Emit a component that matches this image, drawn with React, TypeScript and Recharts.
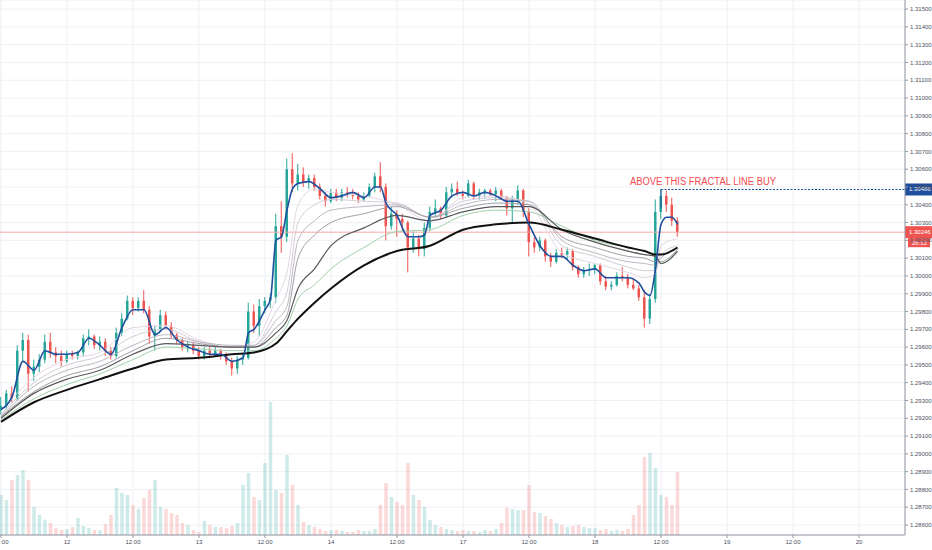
import React from "react";
import {
  ComposedChart,
  Bar,
  Line,
  XAxis,
  YAxis,
  CartesianGrid,
  ReferenceLine,
  ReferenceDot,
} from "recharts";

// hourly candles, [open, high, low, close]
const candles: [number, number, number, number][] = [
  [1.2924, 1.2932, 1.2922, 1.2927], [1.2927, 1.2936, 1.2925, 1.2934], [1.2934, 1.2938, 1.2929, 1.2931],
  [1.2931, 1.2961, 1.293, 1.2958], [1.2958, 1.2968, 1.2952, 1.2964], [1.2964, 1.2967, 1.2935, 1.2945],
  [1.2945, 1.2953, 1.2941, 1.2949], [1.2949, 1.2956, 1.2946, 1.2953], [1.2953, 1.2967, 1.2951, 1.2963],
  [1.2963, 1.2968, 1.2954, 1.2957], [1.2957, 1.296, 1.2951, 1.2955], [1.2955, 1.2958, 1.2949, 1.2952],
  [1.2952, 1.2958, 1.2951, 1.2956], [1.2956, 1.2958, 1.2953, 1.2955], [1.2955, 1.2958, 1.2953, 1.2957],
  [1.2957, 1.2967, 1.2955, 1.2965], [1.2965, 1.297, 1.2961, 1.2966], [1.2966, 1.2967, 1.2959, 1.2961],
  [1.2961, 1.2966, 1.2958, 1.2963], [1.2963, 1.2965, 1.2955, 1.2958], [1.2958, 1.296, 1.2953, 1.2955],
  [1.2955, 1.2971, 1.2954, 1.2968], [1.2968, 1.2979, 1.2966, 1.2976], [1.2976, 1.2989, 1.2975, 1.2986],
  [1.2986, 1.2988, 1.2978, 1.2982], [1.2982, 1.2988, 1.298, 1.2986], [1.2986, 1.2992, 1.2979, 1.2981],
  [1.2981, 1.2983, 1.2962, 1.2966], [1.2966, 1.2972, 1.2958, 1.297], [1.297, 1.2981, 1.2969, 1.2978],
  [1.2978, 1.298, 1.297, 1.2972], [1.2972, 1.2974, 1.2965, 1.2967], [1.2967, 1.2968, 1.2962, 1.2964],
  [1.2964, 1.2965, 1.2958, 1.296], [1.296, 1.2963, 1.2957, 1.2961], [1.2961, 1.2963, 1.2956, 1.2958],
  [1.2958, 1.296, 1.2953, 1.2955], [1.2955, 1.296, 1.2953, 1.2958], [1.2958, 1.296, 1.2954, 1.2956],
  [1.2956, 1.296, 1.2955, 1.2958], [1.2958, 1.2959, 1.2953, 1.2955], [1.2955, 1.2957, 1.295, 1.2952],
  [1.2952, 1.2954, 1.2944, 1.2948], [1.2948, 1.2955, 1.2945, 1.2953], [1.2953, 1.2956, 1.295, 1.2954],
  [1.2954, 1.2985, 1.2953, 1.298], [1.298, 1.2984, 1.2968, 1.2972], [1.2972, 1.2987, 1.2966, 1.2983],
  [1.2983, 1.2988, 1.2979, 1.2986], [1.2986, 1.299, 1.2982, 1.2988], [1.2988, 1.3035, 1.2985, 1.3028],
  [1.3028, 1.3042, 1.3013, 1.3022], [1.3022, 1.3066, 1.3019, 1.306], [1.306, 1.3069, 1.3047, 1.3052],
  [1.3052, 1.3063, 1.3048, 1.3057], [1.3057, 1.3061, 1.305, 1.3053], [1.3053, 1.3057, 1.3049, 1.3055],
  [1.3055, 1.3057, 1.3048, 1.305], [1.305, 1.3052, 1.3043, 1.3045], [1.3045, 1.3047, 1.3039, 1.3042],
  [1.3042, 1.3049, 1.3041, 1.3047], [1.3047, 1.3049, 1.3042, 1.3044], [1.3044, 1.3049, 1.3042, 1.3047],
  [1.3047, 1.305, 1.3044, 1.3046], [1.3046, 1.3049, 1.3043, 1.3045], [1.3045, 1.3047, 1.3041, 1.3043],
  [1.3043, 1.3047, 1.3042, 1.3045], [1.3045, 1.3052, 1.3044, 1.305], [1.305, 1.3058, 1.3047, 1.3056],
  [1.3056, 1.3064, 1.3047, 1.305], [1.305, 1.3052, 1.302, 1.3028], [1.3028, 1.3039, 1.3026, 1.3035],
  [1.3035, 1.3037, 1.3022, 1.3032], [1.3032, 1.3035, 1.3025, 1.303], [1.303, 1.3031, 1.3002, 1.3016],
  [1.3016, 1.3025, 1.3013, 1.3021], [1.3021, 1.3023, 1.3011, 1.3015], [1.3015, 1.303, 1.3011, 1.3027],
  [1.3027, 1.3039, 1.3025, 1.3036], [1.3036, 1.3043, 1.3033, 1.3038], [1.3038, 1.3039, 1.3032, 1.3034],
  [1.3034, 1.305, 1.3033, 1.3047], [1.3047, 1.3052, 1.3044, 1.3049], [1.3049, 1.3053, 1.3045, 1.3046],
  [1.3046, 1.3048, 1.3043, 1.3045], [1.3045, 1.3054, 1.3044, 1.3052], [1.3052, 1.3053, 1.3043, 1.3045],
  [1.3045, 1.3049, 1.3043, 1.3047], [1.3047, 1.3049, 1.3044, 1.3048], [1.3048, 1.3049, 1.3045, 1.3046],
  [1.3046, 1.305, 1.3042, 1.3048], [1.3048, 1.3049, 1.3043, 1.3044], [1.3044, 1.3045, 1.3034, 1.3038],
  [1.3038, 1.3045, 1.303, 1.3043], [1.3043, 1.3051, 1.304, 1.3048], [1.3048, 1.3049, 1.3033, 1.3036],
  [1.3036, 1.3038, 1.3011, 1.3019], [1.3019, 1.3022, 1.3013, 1.3016], [1.3016, 1.3022, 1.3014, 1.302],
  [1.302, 1.3021, 1.3008, 1.3011], [1.3011, 1.3013, 1.3005, 1.3008], [1.3008, 1.3015, 1.3007, 1.3013],
  [1.3013, 1.3016, 1.301, 1.3012], [1.3012, 1.3016, 1.3009, 1.3014], [1.3014, 1.3015, 1.3003, 1.3005],
  [1.3005, 1.3006, 1.2999, 1.3001], [1.3001, 1.3005, 1.2999, 1.3003], [1.3003, 1.3007, 1.3, 1.3004],
  [1.3004, 1.3007, 1.3001, 1.3006], [1.3006, 1.3007, 1.2995, 1.2997], [1.2997, 1.3, 1.2992, 1.2994],
  [1.2994, 1.2997, 1.2992, 1.2995], [1.2995, 1.3002, 1.2994, 1.3], [1.3, 1.3005, 1.2997, 1.2999],
  [1.2999, 1.3001, 1.2993, 1.2995], [1.2995, 1.2999, 1.2992, 1.2993], [1.2993, 1.2995, 1.2986, 1.2988],
  [1.2988, 1.2992, 1.2971, 1.2976], [1.2976, 1.299, 1.2973, 1.2987], [1.2987, 1.3043, 1.2985, 1.3036],
  [1.3036, 1.30486, 1.3032, 1.3045], [1.3045, 1.3048, 1.3036, 1.304], [1.304, 1.3044, 1.3028, 1.3031],
  [1.3031, 1.3033, 1.3022, 1.30246],
];

const volumes = [
  400, 350, 550, 600, 650, 550, 280, 200, 150, 120,
  70, 50, 60, 80, 170, 90, 70, 50, 50, 110,
  200, 470, 420, 400, 300, 260, 370, 450, 550, 280,
  260, 220, 200, 120, 100, 50, 30, 140, 100, 80,
  80, 70, 90, 120, 500, 620, 380, 350, 720, 1330,
  450, 420, 800, 500, 300, 130, 100, 80, 60, 40,
  50, 50, 40, 30, 30, 50, 40, 40, 60, 300,
  520, 380, 330, 300, 720, 400, 350, 280, 150, 100,
  80, 60, 50, 40, 50, 40, 40, 30, 50, 40,
  60, 120, 270, 260, 250, 250, 500, 230, 220, 190,
  160, 120, 100, 80, 90, 100, 80, 70, 70, 50,
  60, 40, 50, 40, 60, 200, 300, 780, 820, 670,
  400, 380, 300, 630,
];

// fast EMA (blue), [bar index, value]
const emaFast: [number, number][] = [
  [0, 1.2925], [2, 1.2932], [4, 1.2952], [6, 1.2947], [8, 1.2958], [10, 1.2956], [12, 1.2956],
  [14, 1.2957], [16, 1.2965], [18, 1.2961], [20, 1.2956], [22, 1.2971], [24, 1.2981], [26, 1.2981],
  [28, 1.2967], [30, 1.2971], [32, 1.2964], [34, 1.296], [36, 1.2958], [38, 1.2956], [40, 1.2956],
  [42, 1.2952], [44, 1.2954], [45, 1.2968], [46, 1.297], [48, 1.2981], [49, 1.2987], [50, 1.302],
  [51, 1.3022], [52, 1.3037], [53, 1.3049], [54, 1.3052], [56, 1.3053], [58, 1.3049], [60, 1.3044],
  [62, 1.3045], [64, 1.3047], [66, 1.3044], [68, 1.305], [69, 1.305], [70, 1.3041], [72, 1.3034],
  [74, 1.3022], [76, 1.3022], [77, 1.3023], [78, 1.3034], [80, 1.3037], [82, 1.3045], [84, 1.3047],
  [86, 1.3045], [88, 1.3047], [90, 1.3045], [92, 1.3042], [94, 1.3042], [96, 1.3029], [98, 1.3017],
  [100, 1.3011], [102, 1.3011], [104, 1.3006], [106, 1.3003], [108, 1.3004], [110, 1.2999],
  [112, 1.2999], [114, 1.2999], [116, 1.2996], [117, 1.2991], [118, 1.2989], [119, 1.3004],
  [120, 1.3029], [121, 1.3033], [122, 1.3033], [123, 1.3029],
];

// ribbon EMAs sampled at these bars
const ribbonIdx = [0, 6, 12, 18, 24, 30, 36, 42, 46, 50, 52, 54, 57, 60, 66, 72, 78, 84, 90, 96, 102, 108, 114, 117, 119, 120, 123];
const ribbon1 = [1.2924, 1.2943, 1.2953, 1.2957, 1.2971, 1.2972, 1.2964, 1.296, 1.2963, 1.2987, 1.3002, 1.304, 1.3049, 1.3047, 1.3045, 1.304, 1.3031, 1.3044, 1.3045, 1.304, 1.3013, 1.3007, 1.3002, 1.2999, 1.3001, 1.3017, 1.3021];
const ribbon2 = [1.2922, 1.294, 1.295, 1.2955, 1.2966, 1.297, 1.2963, 1.296, 1.2961, 1.298, 1.2991, 1.303, 1.304, 1.3043, 1.3042, 1.3041, 1.3033, 1.3042, 1.3044, 1.3042, 1.3017, 1.3011, 1.3005, 1.3003, 1.3003, 1.3012, 1.3017];
const ribbon3 = [1.2921, 1.2938, 1.2947, 1.2952, 1.2961, 1.2967, 1.2963, 1.2961, 1.2961, 1.2975, 1.2983, 1.302, 1.3031, 1.3037, 1.3039, 1.304, 1.3033, 1.304, 1.3043, 1.3042, 1.302, 1.3013, 1.3008, 1.3007, 1.3006, 1.301, 1.3016];
const ribbon4 = [1.2921, 1.2935, 1.2944, 1.2949, 1.2958, 1.2965, 1.2962, 1.296, 1.296, 1.2971, 1.2978, 1.301, 1.3023, 1.303, 1.3035, 1.3039, 1.3033, 1.3038, 1.3041, 1.304, 1.3022, 1.3016, 1.3011, 1.301, 1.3008, 1.3008, 1.3015];
const ribbon5 = [1.292, 1.2934, 1.2942, 1.2947, 1.2956, 1.2962, 1.2961, 1.296, 1.296, 1.2968, 1.2975, 1.2993, 1.3004, 1.3017, 1.3027, 1.3034, 1.3031, 1.3036, 1.3039, 1.3039, 1.3026, 1.3019, 1.3014, 1.3012, 1.3011, 1.3007, 1.3014];
const ribbonGreen = [1.2919, 1.2931, 1.2939, 1.2945, 1.2953, 1.296, 1.2959, 1.2958, 1.2958, 1.2965, 1.2972, 1.2987, 1.2995, 1.3004, 1.3016, 1.3025, 1.3026, 1.3034, 1.3037, 1.3036, 1.3028, 1.302, 1.3016, 1.3014, 1.3012, 1.3007, 1.3013];
const emaSlow = [1.2918, 1.2929, 1.2936, 1.2942, 1.2948, 1.2953, 1.2954, 1.2956, 1.2957, 1.2962, 1.2969, 1.2976, 1.2985, 1.2993, 1.3006, 1.3014, 1.3017, 1.3026, 1.3029, 1.303, 1.3026, 1.3021, 1.3016, 1.3014, 1.3012, 1.3012, 1.3016];

const xTickIdx = [0, 12, 24, 36, 48, 60, 72, 84, 96, 108, 120, 132, 144, 156];
const xTickLabels = ["12:00", "12", "12:00", "13", "12:00", "14", "12:00", "17", "12:00", "18", "12:00", "19", "12:00", "20"];

const priceTicks = [
  1.286, 1.287, 1.288, 1.289, 1.29, 1.291, 1.292, 1.293, 1.294, 1.295,
  1.296, 1.297, 1.298, 1.299, 1.3, 1.301, 1.302, 1.303, 1.304, 1.305,
  1.306, 1.307, 1.308, 1.309, 1.31, 1.311, 1.312, 1.313, 1.314, 1.315,
];

const lastPrice = 1.30246;
const fractalPrice = 1.30486;
const countdown = "26:12";
const SLOTS = 165;

const UP = "#26a69a";
const DOWN = "#ef5350";
const FONT = "'Liberation Sans', Arial, sans-serif";

const data = Array.from({ length: SLOTS }, (_, i) => {
  const row: any = { i };
  const c = candles[i];
  if (c) {
    row.o = c[0];
    row.h = c[1];
    row.l = c[2];
    row.c = c[3];
    row.range = [c[2], c[1]];
    row.vol = volumes[i];
  }
  return row;
});
emaFast.forEach(([i, v]) => (data[i].fast = v));
ribbonIdx.forEach((i, k) => {
  data[i].r1 = ribbon1[k];
  data[i].r2 = ribbon2[k];
  data[i].r3 = ribbon3[k];
  data[i].r4 = ribbon4[k];
  data[i].r5 = ribbon5[k];
  data[i].rg = ribbonGreen[k];
  data[i].slow = emaSlow[k];
});

const Candle = (props: any) => {
  const { x, y, width, height, payload } = props;
  if (!payload || payload.o == null) return null;
  const { o, h, l, c } = payload;
  const color = c >= o ? UP : DOWN;
  const top = Math.min(y, y + height);
  const hh = Math.abs(height);
  const ratio = h !== l ? hh / (h - l) : 0;
  const bodyTop = top + (h - Math.max(o, c)) * ratio;
  const bodyH = Math.max(1, Math.abs(o - c) * ratio);
  const cx = x + width / 2;
  return (
    <g>
      <line x1={cx} x2={cx} y1={top} y2={top + hh} stroke={color} strokeWidth={1} />
      <rect x={cx - 1.25} y={bodyTop} width={2.5} height={bodyH} fill={color} />
    </g>
  );
};

const VolBar = (props: any) => {
  const { x, y, width, height, payload } = props;
  if (!payload || payload.vol == null) return null;
  const color = payload.c >= payload.o ? UP : DOWN;
  return <rect x={x} y={y} width={width} height={height} fill={color} fillOpacity={0.22} />;
};

const axisBox = (text: string, fill: string, extra?: string) => (p: any) => {
  const vb = p.viewBox || {};
  const x = vb.x + vb.width;
  const y = vb.y;
  return (
    <g>
      <rect x={x} y={y - 6} width={27} height={12} fill={fill} />
      <text x={x + 4} y={y + 2} fontSize={6} fill="#fff" fontFamily={FONT}>
        {text}
      </text>
      {extra ? (
        <g>
          <rect x={x + 3} y={y + 6} width={22} height={9} fill={fill} />
          <text x={x + 7} y={y + 12.5} fontSize={6} fill="#fff" fontFamily={FONT}>
            {extra}
          </text>
        </g>
      ) : null}
    </g>
  );
};

const noteLabel = (p: any) => {
  const vb = p.viewBox || {};
  return (
    <text x={vb.x} y={vb.y} fontSize={10} fill="#ef4a4f" fontFamily={FONT} textLength={146} lengthAdjust="spacingAndGlyphs">
      ABOVE THIS FRACTAL LINE BUY
    </text>
  );
};

const ribbonLines = [
  { key: "r1", color: "#e6d6e4", w: 1 },
  { key: "r2", color: "#d3cdd6", w: 1 },
  { key: "r3", color: "#bdb9c0", w: 1 },
  { key: "r4", color: "#a3a0a5", w: 1 },
  { key: "rg", color: "#9fd0a9", w: 1 },
  { key: "r5", color: "#5a5a5e", w: 1.2 },
];

export default function App() {
  return (
    <div style={{ position: "absolute", left: 0, top: 0, width: 932, height: 550, background: "#fff" }}>
      <ComposedChart
        width={932}
        height={550}
        data={data}
        margin={{ top: 0, right: 0, bottom: 0, left: 0 }}
        style={{ fontFamily: FONT }}
      >
        <CartesianGrid stroke="#eef0f5" strokeWidth={1} />
        <XAxis
          dataKey="i"
          type="number"
          domain={[-0.18, 164.36]}
          allowDataOverflow
          ticks={xTickIdx}
          interval={0}
          tickFormatter={(v: number) => xTickLabels[xTickIdx.indexOf(v)]}
          tick={{ fontSize: 6, fill: "#4c525e" }}
          tickSize={3}
          height={15}
          stroke="#9598a1"
        />
        <XAxis xAxisId="v" dataKey="i" type="number" domain={[-0.18, 164.36]} allowDataOverflow hide />
        <YAxis
          orientation="right"
          type="number"
          domain={[1.28544, 1.31551]}
          allowDataOverflow
          ticks={priceTicks}
          interval={0}
          tickFormatter={(v: number) => v.toFixed(5)}
          tick={{ fontSize: 6, fill: "#4c525e" }}
          tickSize={3}
          width={27}
          stroke="#9598a1"
        />
        <YAxis yAxisId="v" domain={[0, 5350]} hide />
        <Bar xAxisId="v" yAxisId="v" dataKey="vol" barSize={3.5} shape={VolBar} isAnimationActive={false} />
        <ReferenceLine y={lastPrice} stroke="#f6a9a8" strokeWidth={1} label={axisBox("1.30246", "#ef5350", countdown)} />
        <Bar dataKey="range" barSize={5} shape={Candle} isAnimationActive={false} />
        {ribbonLines.map((r) => (
          <Line
            key={r.key}
            dataKey={r.key}
            type="monotone"
            stroke={r.color}
            strokeWidth={r.w}
            dot={false}
            activeDot={false}
            connectNulls
            isAnimationActive={false}
          />
        ))}
        <Line dataKey="slow" type="monotone" stroke="#111" strokeWidth={2} dot={false} activeDot={false} connectNulls isAnimationActive={false} />
        <Line dataKey="fast" type="monotone" stroke="#1f4f9e" strokeWidth={1.6} dot={false} activeDot={false} connectNulls isAnimationActive={false} />
        <ReferenceLine
          segment={[{ x: 120, y: fractalPrice }, { x: 164.36, y: fractalPrice }]}
          stroke="#1e4e9c"
          strokeWidth={1.2}
          strokeDasharray="2 1.5"
        />
        <ReferenceLine
          segment={[{ x: 120, y: fractalPrice }, { x: 120, y: 1.3038 }]}
          stroke="#1e4e9c"
          strokeWidth={1}
        />
        <ReferenceLine y={fractalPrice} stroke="none" label={axisBox("1.30486", "#1e4e9c")} />
        <ReferenceDot x={114.36} y={1.30514} r={0} fill="none" stroke="none" label={noteLabel} />
      </ComposedChart>
    </div>
  );
}
